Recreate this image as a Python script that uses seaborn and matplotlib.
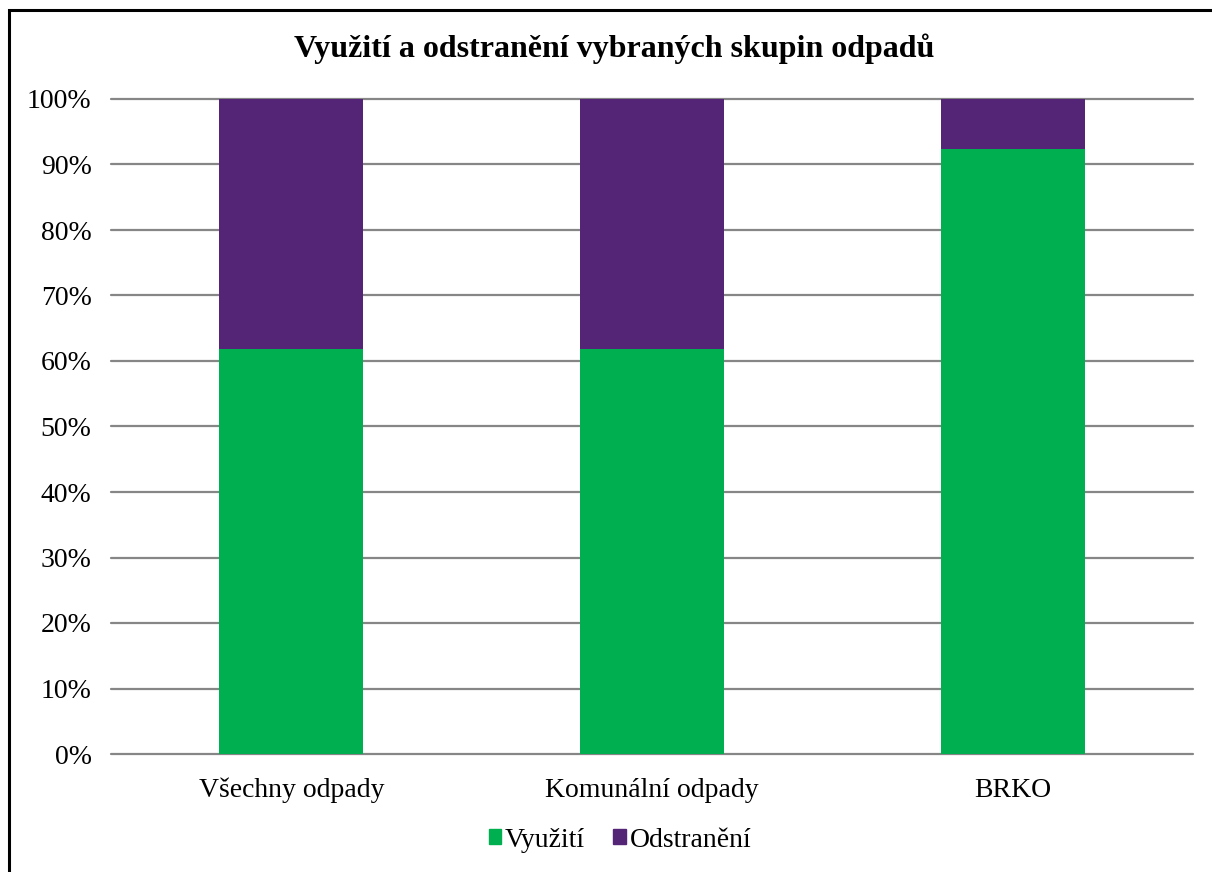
import numpy as np
import pandas as pd
import matplotlib
matplotlib.use("Agg")
import matplotlib.pyplot as plt
import seaborn as sns
from matplotlib.patches import Rectangle, Patch
from matplotlib.ticker import PercentFormatter

# data (percent shares)
categories = ["Všechny odpady", "Komunální odpady", "BRKO"]
vyuziti = [61.8, 61.8, 92.4]
odstraneni = [38.2, 38.2, 7.6]

green = "#00AF50"
purple = "#542577"
grid_col = "#868686"

sns.set_theme(style="white")
plt.rcParams["font.family"] = ["Liberation Serif", "DejaVu Serif"]
plt.rcParams["text.color"] = "black"

df = pd.DataFrame({"kat": categories, "vyuziti": vyuziti,
                   "celkem": np.array(vyuziti) + np.array(odstraneni)})

fig = plt.figure(figsize=(12.12, 8.72), dpi=100)
ax = fig.add_axes([111 / 1212, 1 - 754 / 872, (1193 - 111) / 1212, (754 - 99) / 872])

# stacked: total (purple) behind, využití (green) in front
sns.barplot(data=df, x="kat", y="celkem", color=purple, width=0.4,
            saturation=1, ax=ax, zorder=3, edgecolor="none", linewidth=0)
sns.barplot(data=df, x="kat", y="vyuziti", color=green, width=0.4,
            saturation=1, ax=ax, zorder=4, edgecolor="none", linewidth=0)

ax.set_ylim(0, 100)
ax.set_xlim(-0.5, 2.5)
ax.set_yticks(np.arange(0, 101, 10))
ax.yaxis.set_major_formatter(PercentFormatter(decimals=0))
ax.set_xlabel("")
ax.set_ylabel("")
for y in np.arange(0, 101, 10):
    ax.axhline(y, color=grid_col, lw=1.6, zorder=1, clip_on=False)
for s in ax.spines.values():
    s.set_visible(False)
ax.tick_params(axis="y", length=0, pad=14, labelsize=20, colors="black")
ax.tick_params(axis="x", length=0, pad=17, labelsize=20, colors="black")

fig.text(614 / 1212, 1 - 49 / 872, "Využití a odstranění vybraných skupin odpadů",
         ha="center", va="center", fontsize=23, fontweight="bold", color="black")

handles = [Patch(color=green, label="Využití"), Patch(color=purple, label="Odstranění")]
fig.legend(handles=handles, loc="center", bbox_to_anchor=(620 / 1212, 1 - 840 / 872),
           ncol=2, frameon=False, fontsize=20, handlelength=0.45, handleheight=0.45,
           handletextpad=0.15, columnspacing=1.0)

# outer chart border (left and top visible)
fig.patches.append(Rectangle((8.5 / 1212, -0.1), 1.2, 1.1 - 10 / 872,
                             transform=fig.transFigure, fill=False,
                             edgecolor="black", lw=2.2))

fig.savefig("out.png", dpi=100)
